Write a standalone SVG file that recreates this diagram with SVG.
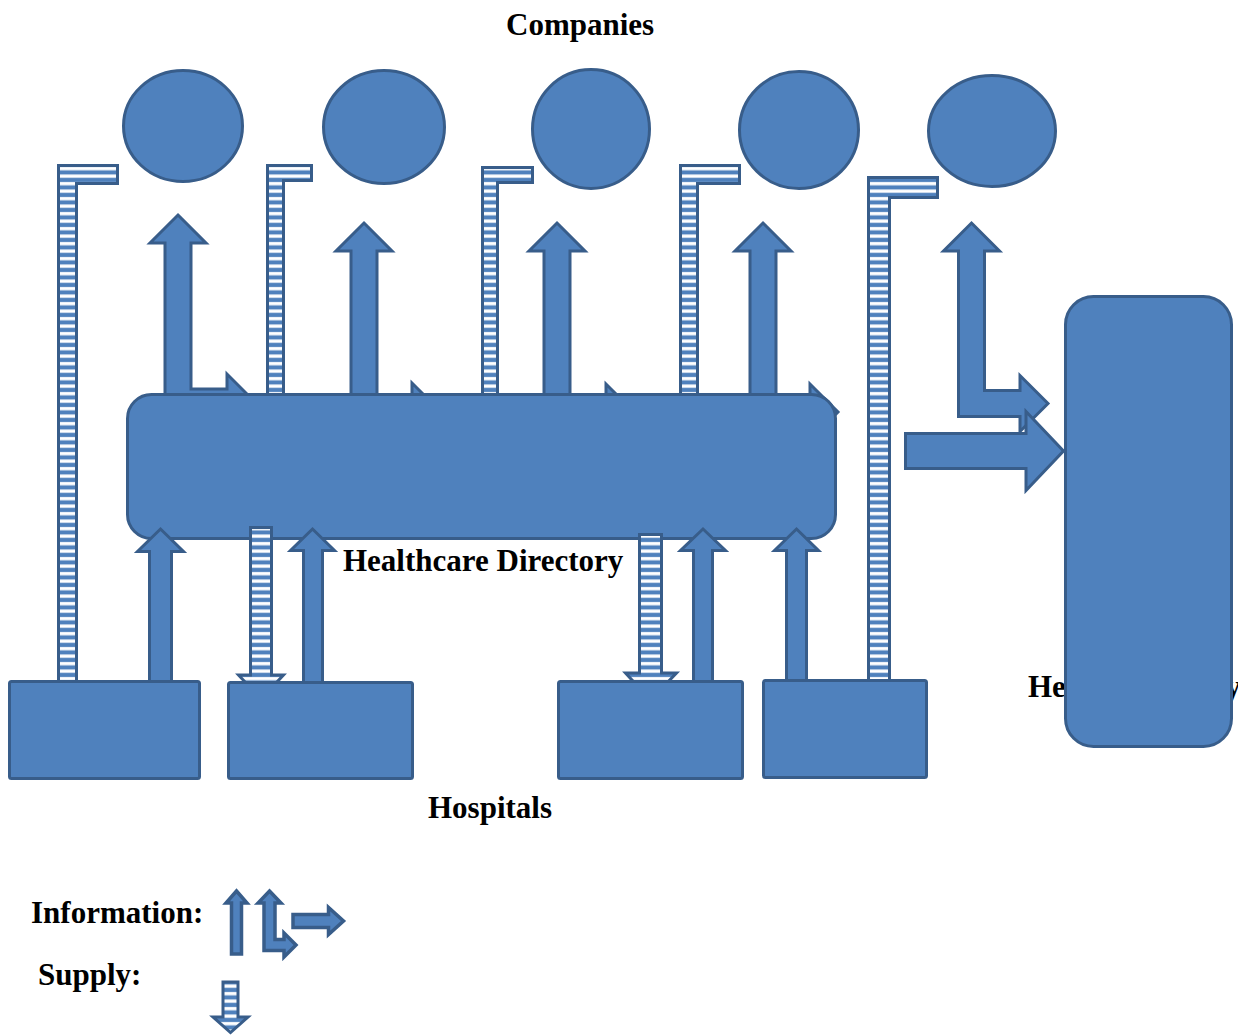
<svg xmlns="http://www.w3.org/2000/svg" width="1238" height="1035" viewBox="0 0 1238 1035">
<defs>
<pattern id="stripes" patternUnits="userSpaceOnUse" x="0" y="0" width="8" height="7.5">
<rect x="0" y="0" width="8" height="7.5" fill="#4F81BD"/>
<rect x="0" y="2" width="8" height="3.3" fill="#FFFFFF"/>
</pattern>
<style>
.shape{fill:#4F81BD;stroke:#385D8A;stroke-width:3;stroke-linejoin:miter}
.supply{fill:url(#stripes);stroke:#385D8A;stroke-width:3}
.lg{fill:#4F81BD;stroke:#385D8A;stroke-width:3.5}
.lbl{font-family:"Liberation Serif","Times New Roman",serif;font-weight:bold;font-size:31px;fill:#000}
</style>
</defs>
<rect width="1238" height="1035" fill="#FFFFFF"/>

<text class="lbl" x="506" y="35">Companies</text>

<g id="company-1"><ellipse class="shape" cx="183" cy="126" rx="59.5" ry="55.5"/></g>
<g id="company-2"><ellipse class="shape" cx="384" cy="127" rx="60.5" ry="56.5"/></g>
<g id="company-3"><ellipse class="shape" cx="591" cy="129" rx="58.5" ry="59.5"/></g>
<g id="company-4"><ellipse class="shape" cx="799" cy="130" rx="59.5" ry="58.5"/></g>
<g id="company-5"><ellipse class="shape" cx="992" cy="131" rx="63.5" ry="55.5"/></g>

<g id="connectors-upper">
<path class="supply" d="M58.5,165.5 H117.5 V183.5 H76.5 V686 H58.5 Z"/>
<path class="supply" d="M267.5,165.5 H311.5 V180.5 H283.5 V420 H267.5 Z"/>
<path class="supply" d="M482.5,167.5 H532.5 V182.5 H497.5 V420 H482.5 Z"/>
<path class="supply" d="M680.5,165.5 H739.5 V183.5 H697.5 V420 H680.5 Z"/>
<path class="supply" d="M868.5,177.5 H937.5 V197.5 H889.5 V686 H868.5 Z"/>
<path class="shape" d="M178,215 L206,243 L191,243 L191,389 L227,389 L227,374 L255,402 L227,430 L227,415 L165,415 L165,243 L150,243 Z"/>
<path class="shape" d="M364,223 L392,251 L377,251 L377,398 L412,398 L412,383 L440,411 L412,439 L412,424 L351,424 L351,251 L336,251 Z"/>
<path class="shape" d="M557,223 L585,251 L570,251 L570,399 L606,399 L606,384 L634,412 L606,440 L606,425 L544,425 L544,251 L529,251 Z"/>
<path class="shape" d="M763,223 L791,251 L776,251 L776,399 L810,399 L810,384 L838,412 L810,440 L810,425 L750,425 L750,251 L735,251 Z"/>
<path class="shape" d="M971.5,223 L999.5,251 L984.5,251 L984.5,390.5 L1020,390.5 L1020,375.5 L1048,403.5 L1020,431.5 L1020,416.5 L958.5,416.5 L958.5,251 L943.5,251 Z"/>
</g>

<g id="healthcare-directory"><rect class="shape" x="127.5" y="394.5" width="708" height="144" rx="24" ry="24"/></g>

<g id="connectors-lower">
<path class="supply" d="M250.5,527.5 H271.5 V675 H283.5 L261,699 L238.5,675 H250.5 Z"/>
<path class="supply" d="M639.5,534.5 H661.5 V673 H676.5 L650.5,700 L625.5,673 H639.5 Z"/>
<path class="shape" d="M160.5,529 L183.5,551.5 H171.5 V686 H149.5 V551.5 H137.5 Z"/>
<path class="shape" d="M312.5,529 L334.5,550.5 H322.5 V686 H303.5 V550.5 H290.5 Z"/>
<path class="shape" d="M703,529 L725.5,550.5 H712.5 V686 H693.5 V550.5 H680.5 Z"/>
<path class="shape" d="M796.5,529 L818.5,550.5 H806.5 V686 H786.5 V550.5 H774.5 Z"/>
<path class="shape" d="M905.5,433.5 H1026 V411.5 L1063.5,451 L1026,490.5 V468.5 H905.5 Z"/>
</g>

<text class="lbl" x="343" y="571">Healthcare Directory</text>

<g id="hospital-1"><rect class="shape" x="9.5" y="681.5" width="190" height="97" rx="2"/></g>
<g id="hospital-2"><rect class="shape" x="228.5" y="682.5" width="184" height="96" rx="2"/></g>
<g id="hospital-3"><rect class="shape" x="558.5" y="681.5" width="184" height="97" rx="2"/></g>
<g id="hospital-4"><rect class="shape" x="763.5" y="680.5" width="163" height="97" rx="2"/></g>

<text class="lbl" x="428" y="818">Hospitals</text>

<g id="health-ministry">
<text class="lbl" x="1028" y="697">Health Ministry</text>
<rect class="shape" x="1065.5" y="296.5" width="166" height="450" rx="28" ry="28"/>
</g>

<g id="legend">
<text class="lbl" x="31" y="923">Information:</text>
<text class="lbl" x="38" y="985">Supply:</text>
<path class="lg" d="M236.5,891 L247,903 H241.5 V954 H231.5 V903 H226 Z"/>
<path class="lg" d="M269.5,891 L281,903 L275,903 L275,939.5 L284,939.5 L284,933 L296,945 L284,957 L284,950.5 L264,950.5 L264,903 L258,903 Z"/>
<path class="lg" d="M293,914.5 H328.5 V907.5 L343.5,921 L328.5,934.5 V927.5 H293 Z"/>
<path class="supply" d="M223,982 H238 V1017 H248 L230.5,1032.5 L213,1017 H223 Z"/>
</g>
</svg>
